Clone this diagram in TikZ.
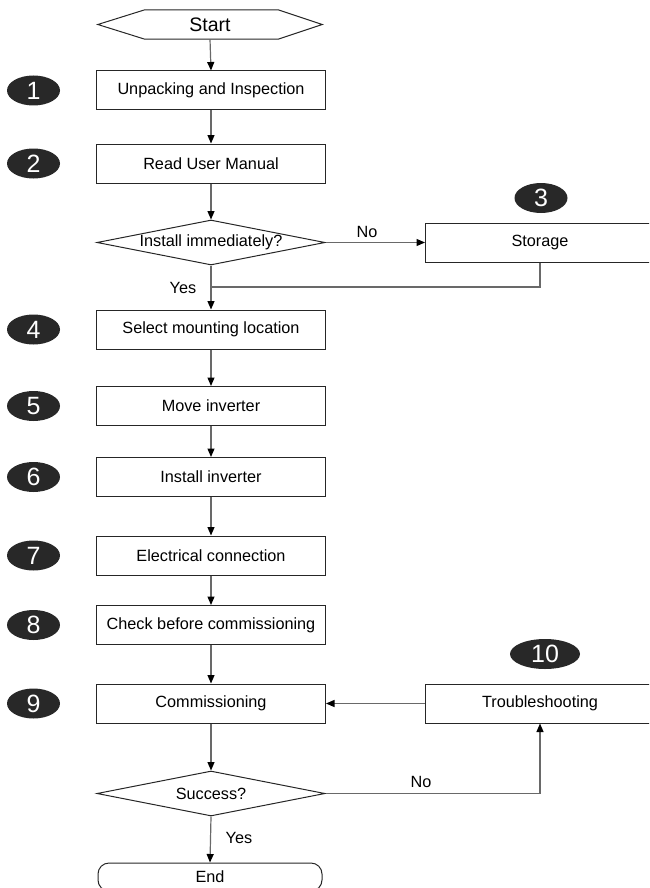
\documentclass[tikz,border=0pt]{standalone}
\usepackage{fontspec}
\setmainfont{Liberation Sans}
\usetikzlibrary{shapes.geometric,arrows.meta}
\definecolor{linegray}{RGB}{105,105,105}
\definecolor{badgegray}{RGB}{40,40,40}

\begin{document}
\begin{tikzpicture}[x=1pt,y=-1pt,font=\fontsize{16.25}{19}\selectfont,
  box/.style={draw=black!85,line width=1pt,minimum width=229pt,minimum height=39pt,inner sep=0pt},
  choice/.style={diamond,draw=black!85,line width=1pt,aspect=5,minimum width=228pt,minimum height=45pt,inner sep=0pt},
  badge/.style={ellipse,fill=badgegray,text=white,minimum width=53pt,minimum height=30pt,inner sep=0pt,font=\fontsize{25}{25}\selectfont},
  conn/.style={draw=linegray,line width=1.2pt,-{Triangle[length=8.5pt,width=7pt,color=black]}},
  wire/.style={draw=linegray,line width=1.2pt}]
\useasboundingbox (0,0) rectangle (649,888);
\clip (0,0) rectangle (649,888);

% start and end
\node[minimum width=224pt,minimum height=29pt,inner sep=0pt,font=\fontsize{19.5}{23}\selectfont] (start) at (210,24.5) {Start};
\draw[black!85,line width=1pt] (start.west) -- ([xshift=47pt]start.north west) -- ([xshift=-44pt]start.north east) -- (start.east)
  -- ([xshift=-44pt]start.south east) -- ([xshift=47pt]start.south west) -- cycle;
\node[box,rounded corners=11pt,minimum width=224pt,minimum height=28pt] (finish) at (210,877) {End};

% steps
\node[box] (unpack) at (211,90.5) {Unpacking and Inspection};
\node[box] (manual) at (211,163.5) {Read User Manual};
\node[choice] (install) at (211,242.5) {Install immediately?};
\node[box] (storage) at (540,242.5) {Storage};
\node[box] (location) at (211,329.5) {Select mounting location};
\node[box] (move) at (211,406) {Move inverter};
\node[box] (mount) at (211,477) {Install inverter};
\node[box] (elec) at (211,555.5) {Electrical connection};
\node[box] (check) at (211,625) {Check before commissioning};
\node[box] (commission) at (211,703.5) {Commissioning};
\node[box] (trouble) at (540,703.5) {Troubleshooting};
\node[choice] (success) at (211,793.5) {Success?};

% step numbers
\foreach \n/\y in {1/90.5,2/163.5,4/329.5,5/406,6/477,7/555.5,8/625,9/703.5}
  \node[badge] (badge\n) at (33.5,\y) {\n};
\node[badge] (badge3) at (541,198) {3};
\node[badge,minimum width=70pt] (badge10) at (545,654) {10};

% connectors
\draw[conn] (start.south) -- (unpack.north);
\draw[conn] (unpack.south) -- (manual.north);
\draw[conn] (manual.south) -- (install.north);
\draw[conn] (install.east) -- (storage.west);
\node (no1) at (367,232) {No};
\coordinate (merge) at (211,287);
\draw[wire] (storage.south) |- (merge);
\draw[conn] (install.south) -- (location.north);
\node (yes1) at (183,288) {Yes};
\draw[conn] (location.south) -- (move.north);
\draw[conn] (move.south) -- (mount.north);
\draw[conn] (mount.south) -- (elec.north);
\draw[conn] (elec.south) -- (check.north);
\draw[conn] (check.south) -- (commission.north);
\draw[conn] (commission.south) -- (success.north);
\draw[conn] (success.east) -| (trouble.south);
\node (no2) at (421,782) {No};
\draw[conn] (trouble.west) -- (commission.east);
\draw[conn] (success.south) -- (finish.north);
\node (yes2) at (239,838) {Yes};
\end{tikzpicture}
\end{document}
